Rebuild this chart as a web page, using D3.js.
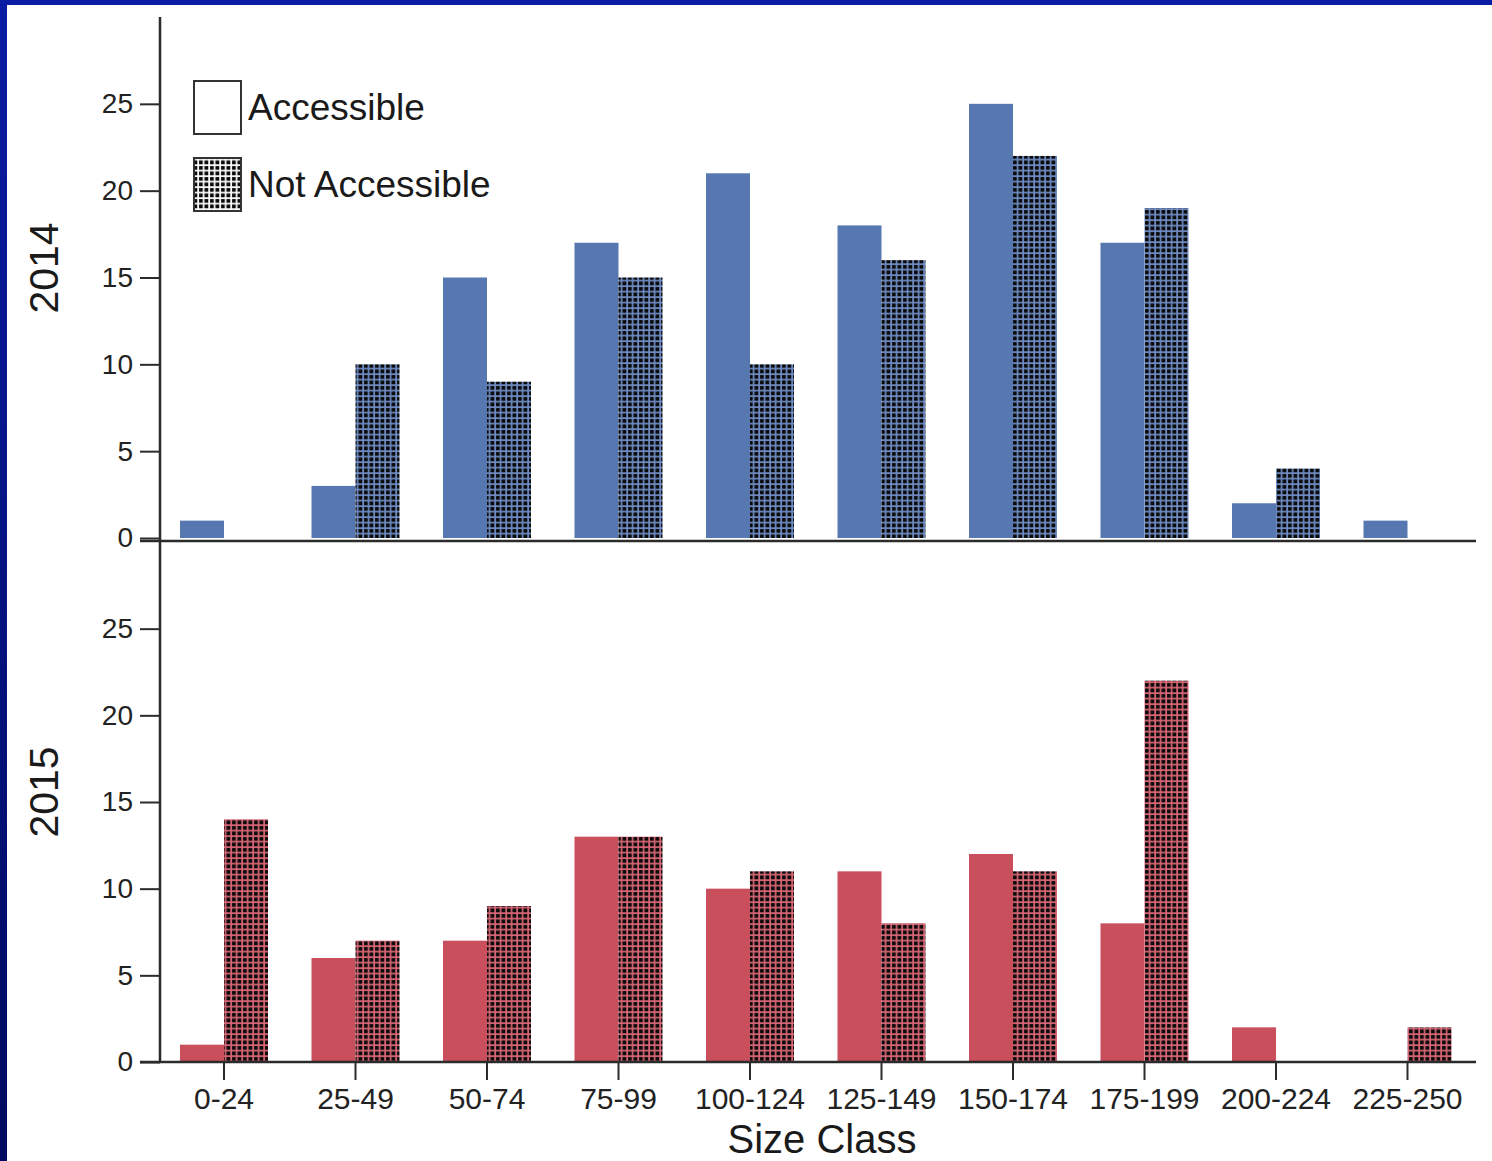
<!DOCTYPE html>
<html><head><meta charset="utf-8">
<script src="https://cdn.jsdelivr.net/npm/d3@7"></script>
<style>
html,body{margin:0;padding:0;background:#fff;}
svg{display:block;font-family:"Liberation Sans",Arial,sans-serif;}
</style></head>
<body>
<svg id="c" width="1492" height="1161"></svg>
<script>
const categories = ["0-24","25-49","50-74","75-99","100-124","125-149","150-174","175-199","200-224","225-250"];
const series = ["Accessible","Not Accessible"];
const acc2014 = [1,3,15,17,21,18,25,17,2,1];
const notAcc2014 = [0,10,9,15,10,16,22,19,4,0];
const acc2015 = [1,6,7,13,10,11,12,8,2,0];
const notAcc2015 = [14,7,9,13,11,8,11,22,0,2];
const yTicks = [0,5,10,15,20,25];
const years = ["2014","2015"];

const svg = d3.select("#c");
const W = 1492, H = 1161;

const defs = svg.append("defs");
const lg = defs.append("linearGradient").attr("id","bord").attr("x1",0).attr("y1",0).attr("x2",0).attr("y2",1);
lg.append("stop").attr("offset","0%").attr("stop-color","#0a1ca4");
lg.append("stop").attr("offset","100%").attr("stop-color","#000a5e");
svg.append("rect").attr("x",0).attr("y",0).attr("width",W).attr("height",H).attr("fill","url(#bord)");
svg.append("rect").attr("x",7).attr("y",5).attr("width",W-7).attr("height",H-5).attr("fill","#fff");

const colors = {blue:"#5677b0", red:"#c94f5d"};
function makePattern(id, base){
  const p = defs.append("pattern").attr("id",id).attr("patternUnits","userSpaceOnUse")
    .attr("width",5.5).attr("height",5.5);
  p.append("rect").attr("width",5.5).attr("height",5.5).attr("fill",base);
  p.append("rect").attr("x",1).attr("y",1).attr("width",3.8).attr("height",3.8).attr("fill","#0a0a0a");
}
makePattern("patBlue", "#6f8cc4");
makePattern("patRed", "#d86676");
makePattern("patWhite", "#ffffff");

const x = d3.scaleBand().domain(categories).range([158.25, 1473.25]);
const x1 = d3.scaleBand().domain(series).range([0, 88]);

const panels = [
  {year:"2014", acc:acc2014, not:notAcc2014, y:d3.scaleLinear().domain([0,30]).range([538,17]), axisY:541, fill:colors.blue, pat:"url(#patBlue)", labelY:268},
  {year:"2015", acc:acc2015, not:notAcc2015, y:d3.scaleLinear().domain([0,30]).range([1062,542]), axisY:1062, fill:colors.red, pat:"url(#patRed)", labelY:792}
];

const axisColor = "#2b2b2b";

panels.forEach(p => {
  const g = svg.append("g");
  const rows = categories.map((c,i)=>({c, vals:[{s:"Accessible", v:p.acc[i]},{s:"Not Accessible", v:p.not[i]}]}));
  rows.forEach(r => {
    r.vals.forEach(d => {
      if (d.v <= 0) return;
      g.append("rect")
        .attr("x", x(r.c) + x.bandwidth()/2 - 44 + x1(d.s))
        .attr("y", p.y(d.v))
        .attr("width", x1.bandwidth())
        .attr("height", p.y(0) - p.y(d.v))
        .attr("fill", d.s === "Accessible" ? p.fill : p.pat);
    });
  });
  const ya = d3.axisLeft(p.y).tickValues(yTicks).tickSize(20).tickPadding(7).tickSizeOuter(0);
  const ag = svg.append("g").attr("transform","translate(160,0)").call(ya);
  ag.select(".domain").remove();
  ag.selectAll(".tick line").attr("stroke",axisColor).attr("stroke-width",2);
  ag.selectAll(".tick text").attr("font-size",28).attr("fill","#222").attr("font-family","Liberation Sans, Arial, sans-serif");
  svg.append("line").attr("x1",140).attr("x2",1476).attr("y1",p.axisY).attr("y2",p.axisY)
    .attr("stroke",axisColor).attr("stroke-width",2.5);
  svg.append("text").attr("transform",`translate(58,${p.labelY}) rotate(-90)`)
    .attr("text-anchor","middle").attr("font-size",41).attr("fill","#1a1a1a").text(p.year);
});

svg.append("line").attr("x1",160).attr("x2",160).attr("y1",17).attr("y2",1062)
  .attr("stroke",axisColor).attr("stroke-width",2.5);

const xa = d3.axisBottom(x).tickSize(18).tickPadding(8).tickSizeOuter(0);
const xg = svg.append("g").attr("transform","translate(0,1062)").call(xa);
xg.select(".domain").remove();
xg.selectAll(".tick line").attr("stroke",axisColor).attr("stroke-width",2);
xg.selectAll(".tick text").attr("font-size",30).attr("fill","#222").attr("font-family","Liberation Sans, Arial, sans-serif");

svg.append("text").attr("x",822).attr("y",1153).attr("text-anchor","middle")
  .attr("font-size",40).attr("fill","#1a1a1a").text("Size Class");

const legend = svg.append("g");
const legItems = [{s:"Accessible", fill:"#fff", y:81},{s:"Not Accessible", fill:"url(#patWhite)", y:158}];
legItems.forEach(l => {
  legend.append("rect").attr("x",194).attr("y",l.y).attr("width",47).attr("height",53)
    .attr("fill",l.fill).attr("stroke","#333").attr("stroke-width",2);
  legend.append("text").attr("x",248).attr("y",l.y+39).attr("font-size",37).attr("fill","#1a1a1a").text(l.s);
});
</script>
</body></html>
